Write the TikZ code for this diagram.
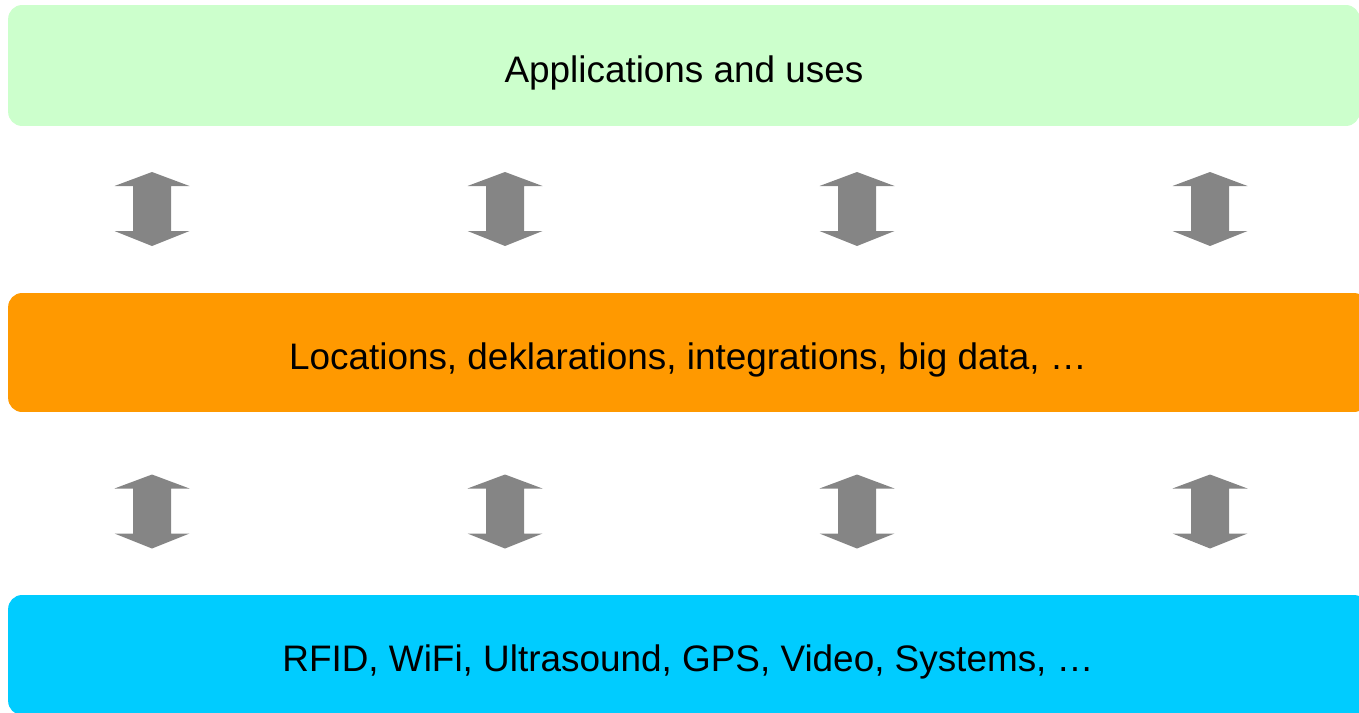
\documentclass[tikz,border=0pt]{standalone}
\usepackage{fontspec}
\setmainfont{Liberation Sans}
\usetikzlibrary{positioning}
\definecolor{appgreen}{HTML}{CCFFCC}
\definecolor{midorange}{HTML}{FF9900}
\definecolor{techblue}{HTML}{00CCFF}
\definecolor{arrowgray}{HTML}{858585}
\tikzset{
  layer/.style={rounded corners=0.28cm, inner sep=0pt, text height=19pt, text depth=0pt,
      font=\fontsize{21}{25}\selectfont},
  updown/.pic={\fill[arrowgray] (0,-37) -- (37.5,-23) -- (19,-23) -- (19,22) -- (37.5,22) -- (0,37)
      -- (-37.5,22) -- (-19,22) -- (-19,-23) -- (-37.5,-23) -- cycle;}
}

\begin{document}
\begin{tikzpicture}[x=0.02cm, y=-0.02cm]
\useasboundingbox (0,0) rectangle (1359,713);
\clip (0,0) rectangle (1359,713);
\draw
    node [layer, fill=appgreen, minimum width=27.04cm, minimum height=2.42cm] (apps) at (684,65.5) {Applications and uses}
    node [layer, fill=midorange, minimum width=27.2cm, minimum height=2.38cm] (proc) at (688,352.5) {Locations, deklarations, integrations, big data, …}
    node [layer, fill=techblue, minimum width=27.2cm, minimum height=2.4cm] (tech) at (688,655) {RFID, WiFi, Ultrasound, GPS, Video, Systems, …}
;
\foreach \x in {152,505,857,1210} {
  \pic at (\x,209) {updown};
  \pic at (\x,511.5) {updown};
}
\end{tikzpicture}
\end{document}
